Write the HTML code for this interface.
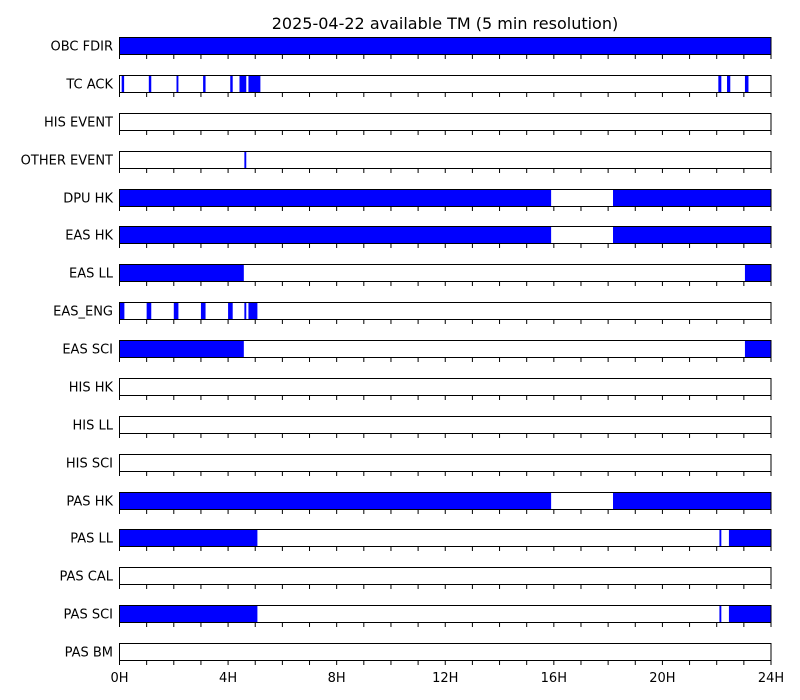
<!DOCTYPE html>
<html><head><meta charset="utf-8"><style>
body{margin:0;background:#fff}
svg{display:block;font-family:"DejaVu Sans","Liberation Sans",sans-serif}
</style></head><body>
<svg id="chart" width="800" height="700" xmlns="http://www.w3.org/2000/svg">
<text x="445" y="29" font-size="16" text-anchor="middle">2025-04-22 available TM (5 min resolution)</text>
</svg>
<script>
const rows = ["OBC FDIR","TC ACK","HIS EVENT","OTHER EVENT","DPU HK","EAS HK","EAS LL","EAS_ENG","EAS SCI","HIS HK","HIS LL","HIS SCI","PAS HK","PAS LL","PAS CAL","PAS SCI","PAS BM"];
const segments = [
 [[0,24]],
 [[0.08,0.17],[1.08,1.17],[2.1,2.17],[3.08,3.17],[4.08,4.17],[4.42,4.67],[4.75,5.19],[22.06,22.17],[22.38,22.5],[23.04,23.17]],
 [],
 [[4.6,4.67]],
 [[0,15.9],[18.18,24]],
 [[0,15.9],[18.18,24]],
 [[0,4.58],[23.04,24]],
 [[0,0.18],[1.0,1.17],[2.0,2.17],[3.0,3.17],[4.0,4.17],[4.6,4.67],[4.75,5.08]],
 [[0,4.58],[23.04,24]],
 [],[],[],
 [[0,15.9],[18.18,24]],
 [[0,5.08],[22.1,22.17],[22.45,24]],
 [],
 [[0,5.08],[22.1,22.17],[22.45,24]],
 []
];
const tickLabels = ["0H","4H","8H","12H","16H","20H","24H"];
const X0=119.5, X1=771, TOP=37, STEP=37.88, H=18;
const xs = h => X0 + (X1-X0)*h/24;
const svg = document.getElementById('chart');
const NS="http://www.w3.org/2000/svg";
function mk(tag, attrs){const e=document.createElementNS(NS,tag);for(const k in attrs)e.setAttribute(k,attrs[k]);svg.appendChild(e);return e;}
rows.forEach((name,i)=>{
  const y = Math.round(TOP + i*STEP);
  const lab = mk('text',{x:113,y:y+13.5,'font-size':13,'text-anchor':'end'});
  lab.textContent=name;
  
  
  segments[i].forEach(s=>{
    const r = mk('rect',{x:xs(s[0]),y:y,width:Math.max(1.5,xs(s[1])-xs(s[0])),height:H,fill:'#0000ff'});
    
    
  });
  const f = mk('rect',{x:X0,y:y+0.5,width:X1-X0,height:H-1,fill:'none',stroke:'#000','stroke-width':1});
  
  
  for(let h=0;h<=24;h++){
    const t = mk('line',{x1:xs(h),x2:xs(h),y1:y+H,y2:y+H+4,stroke:'#000','stroke-width':1});
    
    
  }
});
tickLabels.forEach((t,k)=>{
  const e = mk('text',{x:xs(k*4),y:682,'font-size':13,'text-anchor':'middle'});
  e.textContent=t;
  
  
});
</script>
</body></html>
